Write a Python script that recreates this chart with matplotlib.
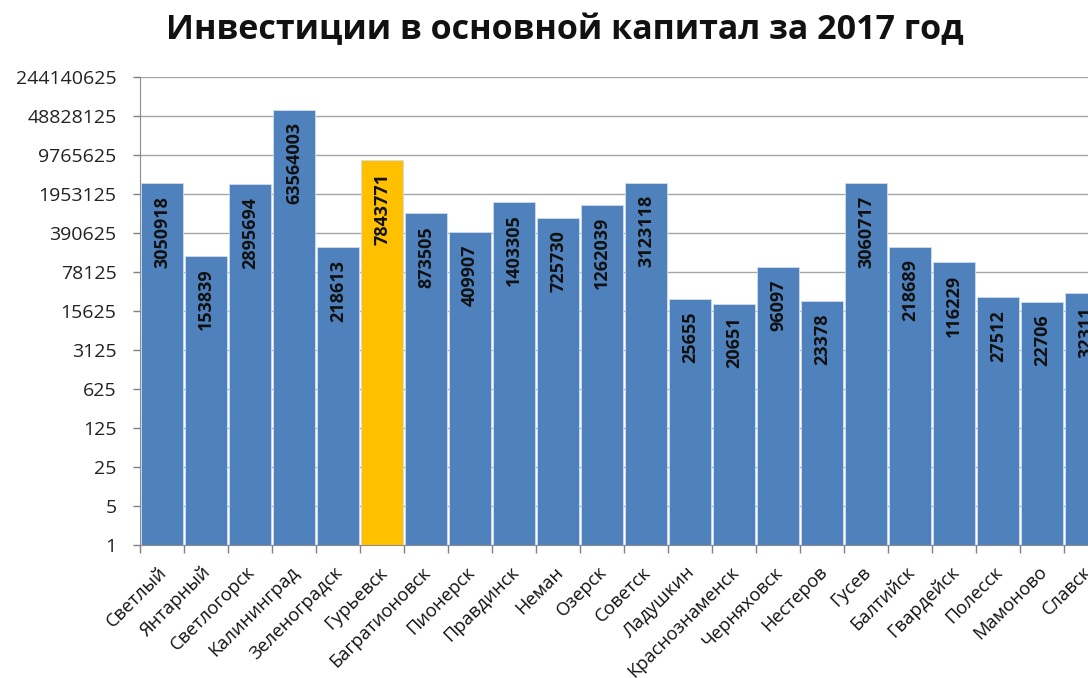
import matplotlib
matplotlib.use("Agg")
import matplotlib.pyplot as plt
import numpy as np
from matplotlib.ticker import FixedLocator, FixedFormatter, NullLocator

plt.rcParams['font.family'] = ['Open Sans', 'DejaVu Sans']

cities = ["Светлый", "Янтарный", "Светлогорск", "Калининград", "Зеленоградск",
          "Гурьевск", "Багратионовск", "Пионерск", "Правдинск", "Неман", "Озерск",
          "Советск", "Ладушкин", "Краснознаменск", "Черняховск", "Нестеров",
          "Гусев", "Балтийск", "Гвардейск", "Полесск", "Мамоново", "Славск"]
values = [3050918, 153839, 2895694, 63564003, 218613, 7843771, 873505, 409907,
          1403305, 725730, 1262039, 3123118, 25655, 20651, 96097, 23378,
          3060717, 218689, 116229, 27512, 22706, 32311]
highlight = "Гурьевск"
ytick_values = [5 ** k for k in range(13)]
title = "Инвестиции в основной капитал за 2017 год"

blue = "#4F81BD"
yellow = "#FFC000"

fig = plt.figure(figsize=(10.88, 6.78), dpi=100)
ax = fig.add_axes([140 / 1088, 133 / 678, 968 / 1088, 468 / 678])

x = np.arange(len(cities))
colors = [yellow if c == highlight else blue for c in cities]
ax.bar(x, values, width=0.94, bottom=1, color=colors, edgecolor="#D0DCEC",
       linewidth=0.6, zorder=3)

ax.set_yscale("log", base=5)
ax.set_ylim(1, 5 ** 12)
ax.set_xlim(-0.5, len(cities) - 0.5)

ax.yaxis.set_major_locator(FixedLocator(ytick_values))
ax.yaxis.set_major_formatter(FixedFormatter([str(v) for v in ytick_values]))
ax.yaxis.set_minor_locator(NullLocator())
ax.tick_params(axis="y", labelsize=14, colors="#808080", labelcolor="#222222",
               length=5, width=1, pad=12)

ax.set_xticks(x)
ax.set_xticklabels([])
ax.set_xticks(np.arange(len(cities) + 1) - 0.5, minor=True)
ax.tick_params(axis="x", which="major", length=0)
ax.tick_params(axis="x", which="minor", length=6, width=1, colors="#808080")

for xi, name in zip(x, cities):
    ax.annotate(name, xy=(xi, 0), xycoords=("data", "axes fraction"),
                xytext=(-3, -13), textcoords="offset points",
                rotation=45, ha="right", va="top", rotation_mode="anchor",
                fontsize=13.2, color="#111111")

for xi, v in zip(x, values):
    ax.annotate(str(v), xy=(xi, v), xytext=(0, -9), textcoords="offset points",
                rotation=90, ha="center", va="top", fontsize=13,
                fontweight="bold", color="#111111", zorder=4)

ax.grid(axis="y", color="#A6A6A6", linewidth=1, zorder=0)
for s in ["top", "right"]:
    ax.spines[s].set_visible(False)
for s in ["left", "bottom"]:
    ax.spines[s].set_color("#8C8C8C")

fig.text(565 / 1088, 1 - 30 / 678, title, ha="center", va="center",
         fontsize=24.5, fontweight="bold", color="#111111")

fig.savefig("out.png", dpi=100)
